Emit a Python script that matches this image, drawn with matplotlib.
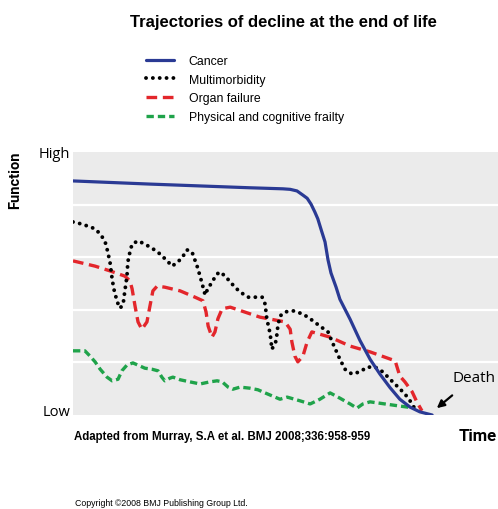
import matplotlib
matplotlib.use('Agg')
import matplotlib.pyplot as plt

# time runs 0..100 (death near 85), function runs 0 (low) .. 5 (high)
cancer_t = [0, 18.1, 41.6, 49.4, 51.1, 52.7, 54.1, 55.1, 56.0, 56.9, 57.6, 58.4,
            59.3, 60.0, 60.7, 61.9, 62.8, 64.0, 65.2, 67.5, 69.9, 72.2, 74.6,
            76.9, 79.3, 81.6, 84.5]
cancer_f = [4.45, 4.39, 4.32, 4.30, 4.29, 4.26, 4.18, 4.12, 4.01, 3.86, 3.73,
            3.52, 3.29, 2.95, 2.70, 2.43, 2.20, 2.01, 1.82, 1.42, 1.06, 0.78,
            0.52, 0.30, 0.15, 0.06, 0.0]

multi_t = [0, 2.1, 3.5, 5.2, 6.4, 7.5, 8.0, 8.7, 9.2, 9.6, 10.4, 11.1, 11.8, 12.2,
           12.7, 12.9, 13.4, 13.9, 15.3, 16.9, 18.8, 20.5, 22.4, 23.3, 24.7, 25.9,
           26.8, 28.0, 29.2, 29.9, 30.6, 31.1, 31.5, 32.7, 33.9, 34.6, 35.8, 37.0,
           38.1, 39.3, 41.2, 44.5, 45.2, 45.6, 46.4, 46.8, 47.8, 48.2, 48.7, 49.9,
           51.8, 54.1, 55.8, 58.1, 60.0, 61.2, 62.8, 64.0, 65.6, 67.5, 69.2, 71.1,
           72.9, 74.6, 76.5, 78.1, 79.3, 80.5, 81.2]
multi_f = [3.67, 3.63, 3.59, 3.54, 3.44, 3.31, 3.16, 2.91, 2.59, 2.40, 2.15, 2.03,
           2.11, 2.36, 2.64, 2.91, 3.10, 3.25, 3.31, 3.25, 3.16, 3.06, 2.91, 2.83,
           2.91, 3.02, 3.14, 3.10, 2.83, 2.64, 2.43, 2.28, 2.36, 2.53, 2.68, 2.72,
           2.64, 2.53, 2.43, 2.34, 2.24, 2.24, 2.11, 1.83, 1.54, 1.25, 1.41, 1.69,
           1.88, 1.96, 1.98, 1.92, 1.83, 1.69, 1.58, 1.35, 1.06, 0.87, 0.78, 0.82,
           0.91, 0.91, 0.82, 0.68, 0.53, 0.40, 0.27, 0.11, 0.06]

organ_t = [0, 5.2, 8.7, 12.2, 13.4, 13.9, 14.6, 15.3, 16.2, 17.4, 18.1, 18.8, 19.8,
           21.6, 25.2, 28.7, 30.6, 31.3, 31.8, 32.7, 33.4, 34.1, 35.1, 37.0, 44.0,
           49.9, 51.1, 51.5, 52.2, 52.9, 54.1, 55.1, 56.2, 60.5, 65.2, 69.9, 75.8,
           76.9, 78.1, 79.8, 80.9, 82.1]
organ_f = [2.93, 2.83, 2.74, 2.64, 2.55, 2.40, 2.07, 1.77, 1.63, 1.77, 2.07, 2.36,
           2.45, 2.43, 2.36, 2.24, 2.17, 1.96, 1.69, 1.48, 1.58, 1.83, 2.02, 2.05,
           1.86, 1.77, 1.63, 1.39, 1.12, 1.01, 1.12, 1.39, 1.58, 1.48, 1.31, 1.20,
           1.03, 0.74, 0.63, 0.44, 0.25, 0.08]

frail_t = [0, 2.8, 4.0, 5.2, 6.4, 8.0, 9.2, 10.6, 11.5, 12.7, 14.1, 15.8, 16.9,
           18.6, 20.0, 20.9, 21.6, 22.8, 23.5, 25.2, 27.5, 29.9, 32.2, 33.9, 35.1,
           36.5, 37.6, 39.3, 41.6, 43.5, 45.2, 48.7, 50.4, 53.4, 55.8, 58.1, 60.5,
           62.8, 65.2, 66.8, 68.2, 69.9, 73.4, 76.9, 80.5]
frail_f = [1.22, 1.22, 1.12, 1.01, 0.87, 0.72, 0.65, 0.68, 0.84, 0.95, 0.99, 0.93,
           0.89, 0.87, 0.84, 0.72, 0.65, 0.70, 0.72, 0.67, 0.63, 0.59, 0.63, 0.65,
           0.63, 0.53, 0.49, 0.53, 0.51, 0.48, 0.42, 0.30, 0.34, 0.27, 0.21, 0.30,
           0.42, 0.32, 0.21, 0.13, 0.21, 0.25, 0.21, 0.17, 0.13]

labels = ['Cancer', 'Multimorbidity', 'Organ failure', 'Physical and cognitive frailty']

plt.rcParams['font.family'] = ['Liberation Sans', 'DejaVu Sans']

fig = plt.figure(figsize=(4.98, 5.10), dpi=100)
ax = fig.add_axes([73/498, 94/510, 425/498, 263/510])
ax.set_facecolor('#ebebeb')
ax.set_xlim(0, 100)
ax.set_ylim(0, 5)
for s in ax.spines.values():
    s.set_visible(False)
ax.set_xticks([])
ax.set_yticks([])
for g in [1, 2, 3, 4]:
    ax.axhline(g, color='white', lw=1.6, zorder=1)

l1, = ax.plot(cancer_t, cancer_f, color='#2a3a94', lw=2.3, zorder=5,
              solid_capstyle='round', solid_joinstyle='round')
l2, = ax.plot(multi_t, multi_f, color='black', lw=2.8, zorder=4,
              linestyle=(0, (0.01, 1.75)), dash_capstyle='round')
l3, = ax.plot(organ_t, organ_f, color='#e3262b', lw=2.4, zorder=3,
              linestyle=(0, (3.2, 1.7)))
l4, = ax.plot(frail_t, frail_f, color='#1fa34a', lw=2.4, zorder=3,
              linestyle=(0, (2.2, 1.2)))

ax.annotate('Death', xy=(85.6, 0.13), xytext=(94.4, 0.72), ha='center', va='center',
            fontsize=11, family=['Open Sans', 'DejaVu Sans'],
            arrowprops=dict(arrowstyle='-|>', color='black', lw=1.6,
                            shrinkA=9, shrinkB=0, mutation_scale=11))

fig.text(283/498, 1 - 22/510, 'Trajectories of decline at the end of life',
         ha='center', va='center', fontsize=12, fontweight='bold')

fig.legend([l1, l2, l3, l4], labels, loc='upper left',
           bbox_to_anchor=(146/498, 1 - 56/510), frameon=False,
           fontsize=8.8, handlelength=2.3, handletextpad=1.2, labelspacing=0.55,
           borderpad=0, borderaxespad=0)

fig.text(70/498, 1 - 155/510, 'High', ha='right', va='center', fontsize=10.5,
         family=['Open Sans', 'DejaVu Sans'])
fig.text(70/498, 1 - 413/510, 'Low', ha='right', va='center', fontsize=10.5,
         family=['Open Sans', 'DejaVu Sans'])
fig.text(15/498, 1 - 180/510, 'Function', ha='center', va='center', rotation=90,
         fontsize=10.5, fontweight='bold', family=['Roboto', 'DejaVu Sans'])
fig.text(497/498, 1 - 437/510, 'Time', ha='right', va='center', fontsize=12,
         fontweight='bold', family=['Roboto', 'DejaVu Sans'])
fig.text(74/498, 1 - 437/510, 'Adapted from Murray, S.A et al. BMJ 2008;336:958-959',
         ha='left', va='center', fontsize=8.3, fontweight='bold')
fig.text(75/498, 1 - 504/510, 'Copyright \u00a92008 BMJ Publishing Group Ltd.',
         ha='left', va='center', fontsize=6.3)

fig.savefig('out.png', dpi=100)
